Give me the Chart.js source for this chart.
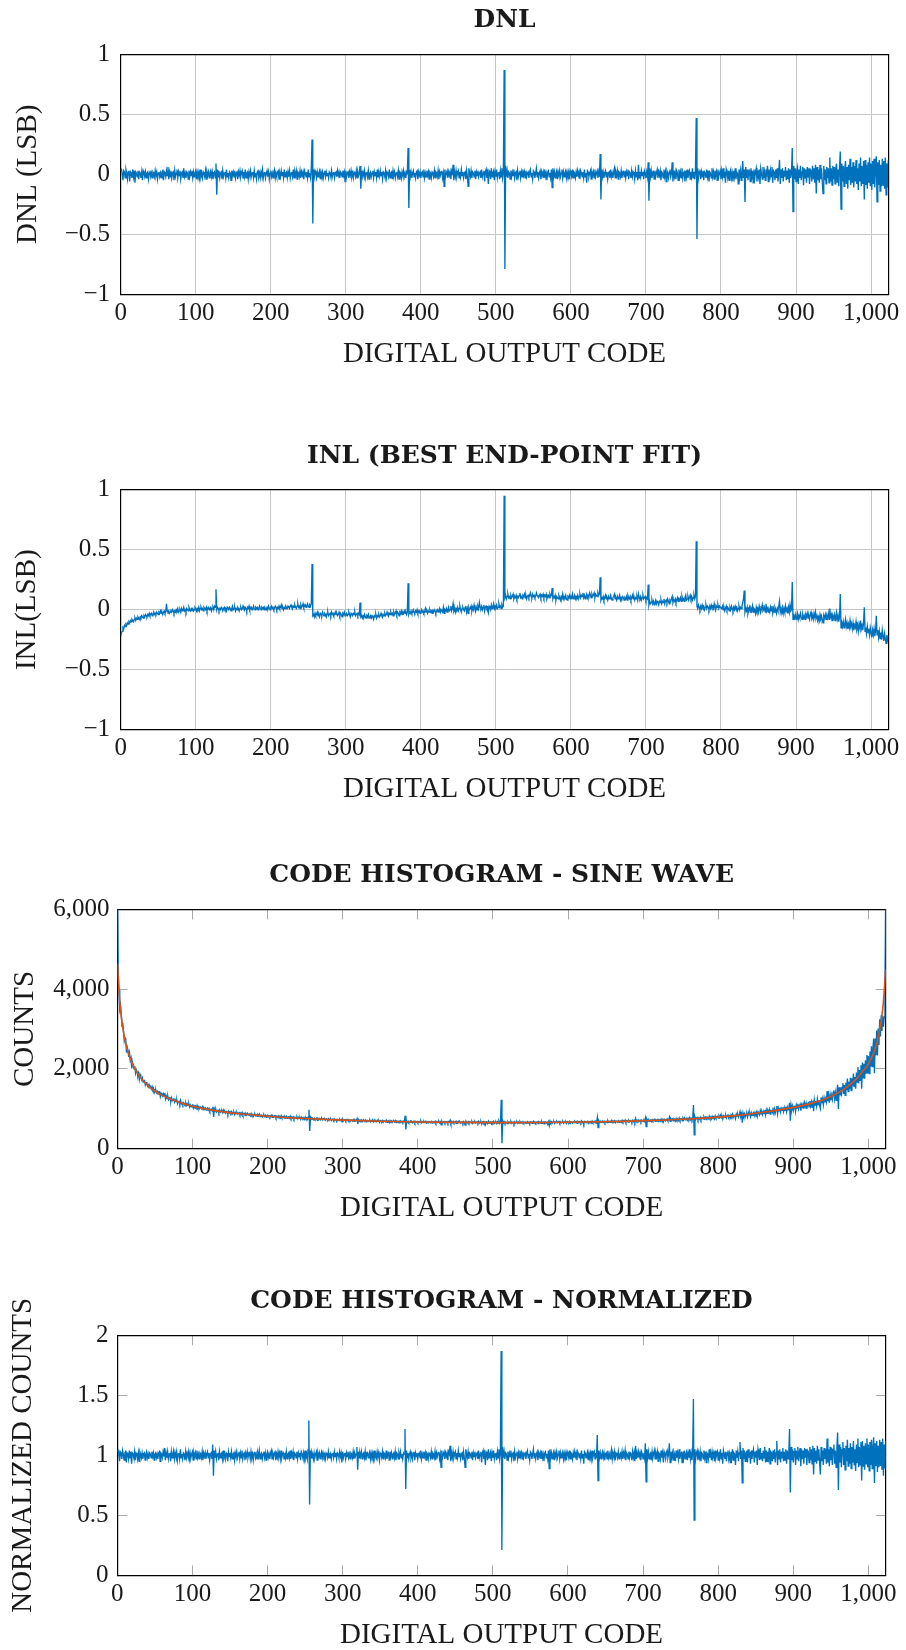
<!DOCTYPE html>
<html>
<head>
<meta charset="utf-8">
<title>ADC static linearity</title>
<script src="https://cdn.jsdelivr.net/npm/chart.js@4.4.1/dist/chart.umd.min.js"></script>
<style>
  html, body { margin: 0; padding: 0; background: #fff; width: 906px; height: 1650px; overflow: hidden; }
  .panel { position: absolute; left: 0; width: 906px; height: 375px; }
  .panel canvas { display: block; }
</style>
</head>
<body>
<div class="panel" id="p1"><canvas id="dnlChart" width="906" height="375"></canvas></div>
<div class="panel" id="p2"><canvas id="inlChart" width="906" height="375"></canvas></div>
<div class="panel" id="p3"><canvas id="histChart" width="906" height="375"></canvas></div>
<div class="panel" id="p4"><canvas id="normChart" width="906" height="375"></canvas></div>
<script>
// Tick values shared by the panels
const codeTicks = [0, 100, 200, 300, 400, 500, 600, 700, 800, 900, 1000];
const lsbTicks = [-1, -0.5, 0, 0.5, 1];
const countTicks = [0, 2000, 4000, 6000];
const normTicks = [0, 0.5, 1, 1.5, 2];

// DNL per output code (LSB), codes 0..1023, 32 codes per row
const dnl = [
.03,.04,.01,-.05,.03,.02,-.03,.04,.01,-.04,.02,.03,-.06,.02,.01,-.03,.04,-.02,.03,-.07,.02,.01,-.02,.03,-.04,.02,.01,-.03,.02,-.05,.03,.01,
-.02,.02,-.03,.01,.02,-.04,.01,.03,-.02,.01,-.03,.02,.01,-.02,.03,-.01,.02,-.04,.01,.02,-.02,.01,-.03,.02,.03,-.05,.02,.01,-.02,.03,-.01,.06,
-.04,.02,-.02,.03,-.03,.01,.02,-.05,.03,-.02,.01,.04,-.03,.02,-.01,.03,-.04,.01,.02,-.03,.05,-.02,.01,-.03,.02,.01,-.04,.03,-.02,.02,-.01,.03,
-.03,.02,-.02,.01,.03,-.04,.02,-.01,.02,-.03,.04,-.02,.01,-.03,.02,.01,-.02,.03,-.04,.02,-.01,.02,-.03,.01,.03,-.02,.02,-.04,.01,.02,-.03,.09,
-.17,.04,-.02,.03,-.03,.01,.02,-.04,.03,-.02,.01,.02,-.03,.04,-.02,.01,-.03,.02,.01,-.05,.03,-.01,.02,-.02,.03,-.03,.01,.02,-.04,.02,-.01,.03,
-.02,.01,.03,-.03,.02,-.02,.04,-.03,.01,.02,-.04,.02,-.01,.03,-.02,.01,.02,-.03,.03,-.02,.01,-.04,.02,.03,-.02,.01,-.03,.02,-.01,.04,-.03,.01,
.02,-.03,.01,.03,-.02,.02,-.04,.01,.03,-.02,.01,-.03,.02,.04,-.03,.01,-.02,.02,.03,-.04,.01,-.02,.03,-.01,.02,-.03,.04,-.02,.01,.02,-.03,.02,
-.02,.03,-.03,.01,.02,-.02,.04,-.03,.02,-.01,.03,-.04,.02,.01,-.02,.03,-.03,.02,-.01,.02,-.04,.03,.01,-.02,.02,-.03,.04,-.02,.01,-.03,.05,.29,
-.41,.04,-.02,.03,.01,-.03,.02,-.02,.01,.03,-.04,.02,-.01,.02,-.03,.01,.03,-.02,.02,-.01,.01,-.03,.02,.01,-.02,.03,-.02,.01,.02,-.03,.01,.02,
-.02,.03,-.01,.02,-.03,.02,.01,-.02,.03,-.01,.02,-.06,.03,-.02,.01,.02,-.03,.02,-.01,.03,-.02,.01,-.03,.02,.01,-.02,.03,-.03,.02,-.01,.01,.07,
-.12,.03,-.02,.02,-.01,.03,-.03,.01,.02,-.02,.03,-.04,.01,.02,-.02,.01,.03,-.03,.02,-.01,.02,-.03,.04,-.02,.01,-.02,.03,-.01,.02,-.04,.02,.01,
-.02,.03,-.03,.02,.01,-.02,.04,-.03,.01,.02,-.04,.03,-.01,.02,-.03,.01,.02,-.02,.03,-.04,.02,.01,-.03,.02,-.01,.03,-.02,.01,-.03,.02,.01,.22,
-.28,.04,-.02,.02,-.03,.01,.03,-.02,.01,-.03,.02,.03,-.04,.02,-.01,.02,-.03,.01,.02,-.02,.04,-.03,.01,-.02,.03,-.01,.02,-.04,.02,.01,-.03,.02,
.01,-.02,.03,-.03,.02,.01,-.02,.03,-.04,.02,-.01,.02,.03,-.03,.01,-.10,.04,-.02,.01,.03,-.03,.02,-.01,.02,-.04,.03,.01,.08,-.05,.02,-.02,.03,
-.02,.01,.03,-.03,.02,-.02,.04,-.01,.02,-.03,.01,.02,-.04,.03,-.02,-.10,.05,.01,-.02,.03,-.03,.02,.01,-.02,.03,-.04,.02,-.01,.03,-.02,.01,.02,
-.03,.04,-.02,.01,.03,-.06,.02,.04,-.03,.01,-.08,.03,.02,-.04,.05,-.02,.01,.03,-.05,.02,-.02,.04,-.03,.01,.02,-.04,.03,-.02,.05,-.03,.02,.87,
-.79,.07,-.02,.03,-.03,.02,.01,-.04,.03,-.02,.02,-.01,.04,-.03,.01,.02,-.05,.03,-.02,.01,.03,-.03,.02,-.02,.04,-.01,.02,-.03,.03,-.02,.01,.02,
-.03,.02,.04,-.02,.01,-.04,.03,.02,-.03,.01,.05,-.02,.02,-.03,.01,.03,-.04,.02,-.01,.02,-.03,.04,-.02,.01,-.05,.02,.03,-.02,.01,-.03,.04,-.11,
.05,-.02,.02,-.03,.01,.03,-.04,.02,-.01,.03,-.02,.01,.04,-.03,.02,-.02,.01,.03,-.03,.02,-.01,.02,-.04,.03,.01,-.02,.04,-.03,.02,.01,-.03,.02,
-.02,.03,-.01,.02,-.04,.03,.01,-.02,.02,-.03,.04,-.02,.01,-.07,.03,.02,-.02,.01,.03,-.04,.02,-.01,.02,-.03,.04,-.02,.01,.03,-.03,.02,-.02,.17,
-.21,.04,-.02,.02,-.03,.01,.03,-.02,.02,-.04,.01,.02,-.03,.04,-.02,.01,-.03,.02,.05,-.03,.02,-.01,.03,-.04,.02,.01,-.02,.03,-.03,.01,.02,-.02,
.03,-.03,.02,-.01,.04,-.04,.02,.01,-.03,.03,-.02,.02,.01,-.04,.03,-.02,.02,-.05,.08,-.03,.02,-.02,.03,-.01,.02,-.04,.03,.01,-.03,.02,-.02,.10,
-.22,.05,-.02,.03,-.03,.01,.02,-.04,.03,-.02,.01,.04,-.03,.02,-.01,.03,-.05,.02,.01,-.03,.04,-.02,.02,-.06,.03,.01,-.03,.02,.04,-.02,.01,.10,
-.06,.03,-.02,.02,-.04,.03,.01,-.05,.04,-.02,.02,-.03,.05,-.03,.01,.02,-.06,.03,-.02,.04,-.03,.01,.03,-.04,.02,-.02,.05,-.03,.02,-.04,.03,.47,
-.54,.05,-.03,.02,.04,-.04,.02,-.02,.03,-.05,.02,.01,-.03,.04,-.02,.03,-.06,.02,.01,-.03,.05,-.02,.02,-.04,.03,-.01,.02,-.05,.04,-.02,.01,.03,
-.04,.03,-.02,.05,-.03,.02,-.07,.04,.01,-.03,.03,-.05,.02,.04,-.03,.01,-.06,.03,-.02,.05,-.04,.02,.01,-.08,.04,-.02,.03,-.05,.02,.11,-.03,.04,
-.23,.06,-.03,.04,-.05,.02,.03,-.06,.05,-.02,.03,-.07,.04,-.03,.02,.05,-.06,.03,-.02,.04,-.08,.05,.01,-.04,.06,-.03,.02,-.05,.04,-.02,.07,-.06,
.04,-.05,.03,-.02,.06,-.07,.03,.02,-.05,.04,-.03,.05,-.06,.02,.12,-.08,.04,-.03,.05,-.06,.03,-.02,.06,-.05,.03,-.04,.05,-.07,.04,-.03,.02,.22,
-.31,.07,-.04,.05,-.06,.03,.06,-.08,.04,-.03,.07,-.05,.02,.06,-.09,.05,-.03,.04,-.07,.06,-.02,.05,-.08,.04,.03,-.06,.07,-.04,.05,-.07,.08,-.16,
.06,-.05,.04,-.07,.08,-.04,.05,-.06,-.16,.07,-.05,.04,-.08,.06,-.03,.05,-.07,.14,-.06,.05,-.09,.07,-.04,.06,-.08,.05,.09,-.07,.04,-.10,.06,.19,
-.29,.09,-.06,.07,-.10,.05,.11,-.08,.06,-.12,.08,-.05,.13,-.09,.06,-.07,.10,-.11,.07,-.06,.12,-.08,.05,-.13,.09,-.06,.14,-.10,.07,-.08,.11,-.21,
.12,-.09,.08,-.12,.10,-.07,.14,-.10,.09,-.13,.11,-.08,.13,-.11,.07,.15,-.23,.10,-.09,.12,-.14,.08,-.10,.13,-.09,.11,-.12,.14,-.17,.09,-.11,.12
];

// INL per output code (LSB), best end-point fit
const inl = [
-.22,-.19,-.18,-.15,-.16,-.13,-.14,-.12,-.13,-.11,-.12,-.10,-.11,-.09,-.10,-.08,-.09,-.10,-.08,-.07,-.09,-.07,-.08,-.06,-.07,-.08,-.06,-.07,-.05,-.06,-.07,-.05,
-.06,-.04,-.05,-.06,-.04,-.05,-.03,-.05,-.04,-.03,-.05,-.04,-.02,-.04,-.03,-.04,-.02,-.03,-.04,-.02,-.03,-.01,-.03,-.02,-.04,-.02,-.01,-.03,-.02,.05,-.01,-.02,
-.01,-.03,-.02,-.01,-.02,0,-.01,-.03,-.01,-.02,0,-.01,.01,-.02,-.01,0,-.02,.01,-.01,0,.02,-.01,0,-.02,.01,0,-.01,.02,0,-.01,.01,0,
.01,-.01,0,.02,.01,-.01,.01,0,.02,-.01,.01,.02,0,.01,-.01,.02,.01,0,.02,-.01,.01,.02,0,.01,.02,-.01,.01,.02,0,.03,.02,.17,
0,.02,.01,-.01,.01,0,.02,.01,-.01,.01,.02,0,.01,-.01,.02,.01,0,.02,.01,-.01,.01,.03,0,.01,.02,-.01,.01,0,.02,.01,-.01,.01,
.02,0,.01,.03,.01,0,.02,.01,-.01,.02,.01,.03,0,.01,.02,0,.01,.03,.01,0,.02,.01,.02,0,.01,.03,.01,0,.02,.01,.02,0,
.02,.01,0,.02,.01,.03,.01,0,.02,.03,.01,.02,0,.01,.03,.02,0,.02,.01,.03,.01,.02,.04,.01,.02,0,.02,.01,.03,.02,.01,.03,
.02,.01,.03,.04,.02,.01,.03,.02,.04,.02,.01,.03,.05,.02,.03,.01,.04,.02,.03,.05,.02,.03,.04,.02,.03,.05,.03,.02,.04,.03,.05,.38,
-.05,-.04,-.06,-.03,-.05,-.04,-.02,-.05,-.04,-.06,-.03,-.04,-.05,-.02,-.04,-.05,-.03,-.04,-.06,-.03,-.02,-.05,-.04,-.03,-.05,-.02,-.04,-.03,-.05,-.04,-.02,-.04,
-.03,-.05,-.04,-.02,-.05,-.03,-.04,-.06,-.03,-.04,-.02,-.05,-.04,-.03,-.05,-.04,-.02,-.04,-.06,-.03,-.04,-.05,-.03,-.04,-.02,-.05,-.04,-.03,-.05,-.03,-.04,.06,
-.06,-.05,-.07,-.05,-.06,-.04,-.06,-.07,-.05,-.06,-.04,-.07,-.06,-.05,-.07,-.05,-.06,-.08,-.05,-.06,-.04,-.07,-.05,-.06,-.04,-.06,-.05,-.03,-.05,-.06,-.04,-.05,
-.03,-.05,-.04,-.02,-.04,-.05,-.03,-.04,-.02,-.04,-.03,-.05,-.02,-.04,-.03,-.01,-.04,-.02,-.03,-.05,-.02,-.03,-.01,-.04,-.02,-.03,-.01,-.03,-.02,-.04,-.02,.22,
-.04,-.02,-.03,-.01,-.03,-.02,0,-.02,-.03,-.01,-.02,0,-.03,-.02,-.01,-.03,-.02,0,-.02,-.01,-.03,-.02,.01,-.02,-.01,-.03,-.01,-.02,0,-.02,-.01,-.03,
-.01,-.02,0,-.01,-.03,-.01,0,-.02,-.01,.01,-.02,0,-.01,-.02,.02,-.03,0,-.01,.01,-.02,0,.02,-.01,0,.03,-.01,.01,.05,-.01,.01,-.02,.01,
0,.02,-.01,.01,.03,0,-.02,.01,.02,0,-.01,.02,.03,-.02,.01,-.03,.02,0,.01,.03,-.01,.02,0,.04,.01,-.01,.02,0,.03,.01,.06,.02,
.01,.03,0,.02,.04,-.01,.02,.03,.01,.02,-.02,.03,.02,0,.04,.01,.02,.05,.01,.03,.02,.04,.01,.02,.05,.02,.03,.01,.04,.02,.03,.95,
.10,.12,.09,.11,.13,.10,.11,.09,.12,.10,.11,.13,.09,.11,.10,.12,.09,.11,.10,.12,.14,.10,.11,.09,.12,.11,.13,.10,.12,.09,.11,.12,
.10,.12,.14,.11,.10,.13,.11,.12,.10,.11,.14,.12,.11,.10,.12,.13,.10,.12,.11,.13,.10,.12,.11,.13,.09,.11,.12,.10,.13,.11,.12,.18,
.09,.11,.10,.12,.08,.11,.10,.09,.12,.10,.08,.11,.10,.13,.09,.11,.10,.12,.09,.08,.11,.10,.12,.09,.11,.10,.13,.09,.10,.12,.09,.11,
.10,.12,.09,.11,.13,.10,.12,.11,.14,.10,.12,.09,.11,.13,.10,.12,.11,.14,.12,.10,.13,.11,.12,.14,.10,.13,.12,.11,.14,.12,.13,.27,
.08,.10,.09,.11,.08,.10,.12,.09,.10,.08,.11,.09,.10,.12,.09,.08,.10,.11,.13,.09,.10,.08,.11,.09,.10,.12,.08,.10,.09,.11,.10,.08,
.10,.09,.11,.08,.12,.10,.09,.11,.08,.10,.12,.09,.11,.08,.10,.09,.11,.08,.13,.10,.09,.11,.08,.10,.12,.09,.10,.11,.08,.10,.09,.21,
.04,.07,.05,.06,.08,.05,.07,.04,.06,.08,.05,.07,.06,.04,.07,.06,.08,.05,.07,.06,.09,.05,.07,.08,.06,.09,.07,.05,.08,.07,.09,.11,
.06,.08,.07,.09,.06,.08,.10,.07,.09,.08,.10,.07,.11,.08,.09,.07,.10,.12,.08,.09,.11,.08,.10,.12,.09,.11,.08,.10,.12,.09,.11,.57,
.03,.01,.04,.02,0,.03,.01,.04,.02,.03,0,.02,.04,.01,.03,.02,0,.03,.01,.04,.02,.03,.01,.05,.02,0,.03,.02,.04,.01,.03,.02,
.02,.01,.03,0,.02,-.01,.01,.03,0,.02,.01,-.01,.02,0,.03,.01,-.01,.02,0,.03,.01,.02,-.01,.01,.03,0,.02,.01,.03,.06,.09,.16,
-.02,.01,-.01,.02,-.03,0,.02,-.02,.01,-.01,.03,-.02,.01,0,-.03,.02,-.01,.01,-.02,.03,0,-.02,.01,.04,-.01,0,.02,-.02,.05,-.01,.01,-.02,
0,-.02,.02,-.01,.03,-.03,.01,-.02,.02,0,-.03,.01,-.01,.03,.07,-.02,.01,-.01,.02,-.03,.01,-.02,.03,-.01,.01,-.03,.02,-.02,.04,-.01,0,.23,
-.08,-.05,-.07,-.04,-.08,-.06,-.03,-.08,-.05,-.07,-.03,-.06,-.08,-.04,-.07,-.05,-.08,-.04,-.06,-.03,-.07,-.05,-.08,-.04,-.02,-.07,-.05,-.08,-.03,-.06,-.02,-.07,
-.05,-.08,-.06,-.09,-.04,-.07,-.05,-.08,-.11,-.05,-.07,-.04,-.08,-.05,-.07,-.03,-.08,.01,-.06,-.04,-.09,-.05,-.07,-.04,-.09,-.05,-.02,-.08,-.05,-.10,-.06,.13,
-.15,-.11,-.14,-.10,-.15,-.12,-.08,-.14,-.11,-.16,-.12,-.15,-.09,-.14,-.12,-.16,-.11,-.17,-.13,-.15,-.10,-.16,-.13,-.18,-.12,-.15,-.09,-.16,-.13,-.17,-.11,.02,
-.18,-.15,-.20,-.14,-.19,-.16,-.21,-.15,-.19,-.23,-.17,-.21,-.16,-.22,-.18,-.05,-.21,-.17,-.23,-.18,-.24,-.19,-.25,-.17,-.22,-.26,-.20,-.24,-.28,-.21,-.25,-.22
];

// Measured sine-wave histogram: hits per output code
const histCounts = [
6400,4410,3980,3505,3595,3386,3065,3151,2949,2698,2774,2719,2406,2540,2454,2299,2402,2215,2276,2013,2162,2101,2004,2070,1896,1979,1929,1824,1892,1739,1859,1798,
1725,1775,1668,1717,1714,1594,1656,1669,1568,1601,1523,1586,1555,1495,1555,1480,1512,1410,1471,1473,1403,1434,1367,1426,1429,1308,1394,1371,1320,1378,1316,1399,
1247,1317,1257,1314,1230,1273,1277,1183,1274,1204,1233,1263,1170,1222,1178,1218,1128,1182,1187,1124,1211,1125,1153,1103,1154,1137,1075,1148,1087,1126,1087,1125,
1048,1098,1052,1080,1097,1019,1079,1043,1071,1016,1085,1018,1046,1001,1049,1035,1001,1048,973,1030,996,1023,969,1005,1022,968,1004,942,987,992,941,1053,
797,996,936,982,922,957,964,905,968,919,944,952,903,965,907,932,893,936,925,867,938,900,924,886,928,872,905,912,855,907,878,911,
864,889,905,851,893,857,907,844,878,884,830,881,853,886,842,866,872,828,878,833,857,813,862,869,825,848,814,854,827,867,807,838,
845,802,833,849,807,838,787,827,843,800,823,790,829,844,787,817,792,823,829,772,811,786,824,791,814,773,828,778,801,808,767,805,
772,811,762,793,800,767,813,758,796,771,801,746,792,783,759,796,749,786,762,784,737,790,774,750,779,740,792,746,768,737,797,978,
444,781,735,773,756,726,762,731,753,767,714,758,735,756,719,747,761,723,752,730,743,713,749,740,718,754,716,737,744,707,735,742,
709,744,715,735,699,734,726,705,740,711,731,674,737,701,722,728,693,727,706,733,697,718,689,724,716,694,729,686,721,699,713,754,
620,725,689,717,695,723,680,708,714,686,720,671,705,712,683,704,717,675,709,688,708,673,721,679,699,678,712,684,704,662,703,696,
673,708,666,701,694,673,712,664,692,699,658,706,678,699,662,689,696,668,702,655,696,689,659,693,672,699,665,686,656,690,683,825,
485,700,660,686,653,680,693,660,680,653,686,693,646,686,666,686,649,676,682,656,696,649,676,656,689,662,682,642,682,676,649,682,
672,652,685,645,678,672,652,685,638,678,658,678,685,645,672,599,688,649,669,682,642,675,655,675,636,682,669,715,629,675,649,682,
646,666,679,639,672,646,685,652,672,639,666,672,633,679,646,593,692,666,646,679,639,672,666,646,679,633,672,652,679,646,666,672,
636,682,643,663,676,617,669,682,636,663,604,676,669,630,689,643,663,676,623,669,643,682,636,663,669,630,676,643,689,636,669,1227,
138,701,642,675,635,668,662,629,675,642,668,648,681,635,662,668,622,675,642,662,675,635,668,642,681,648,668,635,675,642,662,668,
636,669,682,643,663,630,676,669,636,663,689,643,669,636,663,676,630,669,649,669,636,682,643,663,623,669,676,643,663,636,682,584,
693,647,673,640,667,680,634,673,653,680,647,667,686,640,673,647,667,680,640,673,653,673,634,680,667,647,686,640,673,667,640,673,
653,686,659,679,639,686,673,653,679,646,693,653,673,619,686,679,653,673,686,639,679,659,679,646,693,653,673,686,646,679,653,781,
532,701,661,687,654,681,694,661,687,647,681,687,654,701,661,681,660,694,714,660,694,673,700,653,694,687,666,700,660,687,694,666,
711,669,704,683,718,662,704,697,669,711,676,704,697,662,711,676,712,663,754,677,712,684,719,691,712,670,719,705,677,712,684,768,
552,743,694,729,687,715,722,680,729,694,715,736,687,722,701,729,681,731,724,695,746,703,731,674,739,724,695,731,746,703,724,789,
686,752,715,745,701,752,737,694,759,715,745,708,767,708,737,745,700,767,730,775,723,752,767,715,760,730,782,723,760,715,767,1095,
347,793,732,770,785,725,770,740,788,727,780,773,742,796,750,788,730,793,785,754,816,761,793,746,812,780,804,749,820,772,796,812,
768,824,784,840,776,816,744,832,820,788,836,771,828,844,788,820,773,847,806,863,789,838,830,756,868,818,860,793,852,927,810,868,
651,896,820,879,803,862,870,794,908,848,891,804,900,839,882,908,830,909,865,918,812,927,892,848,956,875,920,857,938,884,965,848,
967,884,958,911,986,865,958,949,907,993,926,1003,898,974,1070,879,1019,951,1029,921,1009,960,1039,931,1032,962,1052,932,1042,972,1022,1150,
700,1091,979,1071,959,1051,1081,938,1092,1019,1124,998,1071,1113,956,1103,1050,1125,1006,1147,1060,1136,995,1125,1148,1048,1193,1070,1171,1037,1204,937,
1219,1093,1196,1070,1242,1104,1208,1081,1008,1284,1140,1248,1104,1272,1164,1260,1176,1442,1189,1328,1151,1354,1214,1341,1237,1412,1466,1251,1399,1211,1426,1600,
994,1540,1341,1541,1308,1539,1642,1373,1595,1336,1653,1467,1759,1429,1681,1490,1780,1454,1766,1566,1884,1562,1800,1505,1910,1668,2047,1636,1969,1713,2091,1506,
2159,1775,2130,1755,2218,1895,2348,1885,2320,1881,2438,2052,2567,2060,2522,2760,1892,2764,2339,2960,2337,3013,2597,3242,2812,3344,2950,3320,3060,3300,3950,6400
];

// Ideal sine-wave histogram (expected hits) at selected codes
const fitCodes = [0,1,2,3,4,6,8,10,13,16,20,25,30,40,50,60,80,100,130,160,200,250,300,350,400,450,512,573,623,673,723,773,823,863,893,923,943,963,973,983,993,998,1003,1007,1010,1013,1015,1017,1019,1020,1021,1022,1023];
const fitCounts = [4650,4240,3940,3690,3490,3160,2920,2720,2490,2310,2120,1940,1800,1590,1440,1330,1175,1065,955,882,815,757,716,688,670,659,654,658,668,686,714,757,828,920,1010,1130,1250,1440,1570,1730,1950,2060,2230,2400,2570,2790,2980,3200,3500,3700,3950,4220,4500];

// Histogram normalised to the ideal sine-wave distribution
const normCounts = [
1.03,1.04,1.01,.95,1.03,1.02,.97,1.04,1.01,.96,1.02,1.03,.94,1.02,1.01,.97,1.04,.98,1.03,.93,1.02,1.01,.98,1.03,.96,1.02,1.01,.97,1.02,.95,1.03,1.01,
.98,1.02,.97,1.01,1.02,.96,1.01,1.03,.98,1.01,.97,1.02,1.01,.98,1.03,.99,1.02,.96,1.01,1.02,.98,1.01,.97,1.02,1.03,.95,1.02,1.01,.98,1.03,.99,1.06,
.96,1.02,.98,1.03,.97,1.01,1.02,.95,1.03,.98,1.01,1.04,.97,1.02,.99,1.03,.96,1.01,1.02,.97,1.05,.98,1.01,.97,1.02,1.01,.96,1.03,.98,1.02,.99,1.03,
.97,1.02,.98,1.01,1.03,.96,1.02,.99,1.02,.97,1.04,.98,1.01,.97,1.02,1.01,.98,1.03,.96,1.02,.99,1.02,.97,1.01,1.03,.98,1.02,.96,1.01,1.02,.97,1.09,
.83,1.04,.98,1.03,.97,1.01,1.02,.96,1.03,.98,1.01,1.02,.97,1.04,.98,1.01,.97,1.02,1.01,.95,1.03,.99,1.02,.98,1.03,.97,1.01,1.02,.96,1.02,.99,1.03,
.98,1.01,1.03,.97,1.02,.98,1.04,.97,1.01,1.02,.96,1.02,.99,1.03,.98,1.01,1.02,.97,1.03,.98,1.01,.96,1.02,1.03,.98,1.01,.97,1.02,.99,1.04,.97,1.01,
1.02,.97,1.01,1.03,.98,1.02,.96,1.01,1.03,.98,1.01,.97,1.02,1.04,.97,1.01,.98,1.02,1.03,.96,1.01,.98,1.03,.99,1.02,.97,1.04,.98,1.01,1.02,.97,1.02,
.98,1.03,.97,1.01,1.02,.98,1.04,.97,1.02,.99,1.03,.96,1.02,1.01,.98,1.03,.97,1.02,.99,1.02,.96,1.03,1.01,.98,1.02,.97,1.04,.98,1.01,.97,1.05,1.29,
.59,1.04,.98,1.03,1.01,.97,1.02,.98,1.01,1.03,.96,1.02,.99,1.02,.97,1.01,1.03,.98,1.02,.99,1.01,.97,1.02,1.01,.98,1.03,.98,1.01,1.02,.97,1.01,1.02,
.98,1.03,.99,1.02,.97,1.02,1.01,.98,1.03,.99,1.02,.94,1.03,.98,1.01,1.02,.97,1.02,.99,1.03,.98,1.01,.97,1.02,1.01,.98,1.03,.97,1.02,.99,1.01,1.07,
.88,1.03,.98,1.02,.99,1.03,.97,1.01,1.02,.98,1.03,.96,1.01,1.02,.98,1.01,1.03,.97,1.02,.99,1.02,.97,1.04,.98,1.01,.98,1.03,.99,1.02,.96,1.02,1.01,
.98,1.03,.97,1.02,1.01,.98,1.04,.97,1.01,1.02,.96,1.03,.99,1.02,.97,1.01,1.02,.98,1.03,.96,1.02,1.01,.97,1.02,.99,1.03,.98,1.01,.97,1.02,1.01,1.22,
.72,1.04,.98,1.02,.97,1.01,1.03,.98,1.01,.97,1.02,1.03,.96,1.02,.99,1.02,.97,1.01,1.02,.98,1.04,.97,1.01,.98,1.03,.99,1.02,.96,1.02,1.01,.97,1.02,
1.01,.98,1.03,.97,1.02,1.01,.98,1.03,.96,1.02,.99,1.02,1.03,.97,1.01,.90,1.04,.98,1.01,1.03,.97,1.02,.99,1.02,.96,1.03,1.01,1.08,.95,1.02,.98,1.03,
.98,1.01,1.03,.97,1.02,.98,1.04,.99,1.02,.97,1.01,1.02,.96,1.03,.98,.90,1.05,1.01,.98,1.03,.97,1.02,1.01,.98,1.03,.96,1.02,.99,1.03,.98,1.01,1.02,
.97,1.04,.98,1.01,1.03,.94,1.02,1.04,.97,1.01,.92,1.03,1.02,.96,1.05,.98,1.01,1.03,.95,1.02,.98,1.04,.97,1.01,1.02,.96,1.03,.98,1.05,.97,1.02,1.87,
.21,1.07,.98,1.03,.97,1.02,1.01,.96,1.03,.98,1.02,.99,1.04,.97,1.01,1.02,.95,1.03,.98,1.01,1.03,.97,1.02,.98,1.04,.99,1.02,.97,1.03,.98,1.01,1.02,
.97,1.02,1.04,.98,1.01,.96,1.03,1.02,.97,1.01,1.05,.98,1.02,.97,1.01,1.03,.96,1.02,.99,1.02,.97,1.04,.98,1.01,.95,1.02,1.03,.98,1.01,.97,1.04,.89,
1.05,.98,1.02,.97,1.01,1.03,.96,1.02,.99,1.03,.98,1.01,1.04,.97,1.02,.98,1.01,1.03,.97,1.02,.99,1.02,.96,1.03,1.01,.98,1.04,.97,1.02,1.01,.97,1.02,
.98,1.03,.99,1.02,.96,1.03,1.01,.98,1.02,.97,1.04,.98,1.01,.93,1.03,1.02,.98,1.01,1.03,.96,1.02,.99,1.02,.97,1.04,.98,1.01,1.03,.97,1.02,.98,1.17,
.79,1.04,.98,1.02,.97,1.01,1.03,.98,1.02,.96,1.01,1.02,.97,1.04,.98,1.01,.97,1.02,1.05,.97,1.02,.99,1.03,.96,1.02,1.01,.98,1.03,.97,1.01,1.02,.98,
1.03,.97,1.02,.99,1.04,.96,1.02,1.01,.97,1.03,.98,1.02,1.01,.96,1.03,.98,1.02,.95,1.08,.97,1.02,.98,1.03,.99,1.02,.96,1.03,1.01,.97,1.02,.98,1.10,
.78,1.05,.98,1.03,.97,1.01,1.02,.96,1.03,.98,1.01,1.04,.97,1.02,.99,1.03,.95,1.02,1.01,.97,1.04,.98,1.02,.94,1.03,1.01,.97,1.02,1.04,.98,1.01,1.10,
.94,1.03,.98,1.02,.96,1.03,1.01,.95,1.04,.98,1.02,.97,1.05,.97,1.01,1.02,.94,1.03,.98,1.04,.97,1.01,1.03,.96,1.02,.98,1.05,.97,1.02,.96,1.03,1.47,
.46,1.05,.97,1.02,1.04,.96,1.02,.98,1.03,.95,1.02,1.01,.97,1.04,.98,1.03,.94,1.02,1.01,.97,1.05,.98,1.02,.96,1.03,.99,1.02,.95,1.04,.98,1.01,1.03,
.96,1.03,.98,1.05,.97,1.02,.93,1.04,1.01,.97,1.03,.95,1.02,1.04,.97,1.01,.94,1.03,.98,1.05,.96,1.02,1.01,.92,1.04,.98,1.03,.95,1.02,1.11,.97,1.04,
.77,1.06,.97,1.04,.95,1.02,1.03,.94,1.05,.98,1.03,.93,1.04,.97,1.02,1.05,.94,1.03,.98,1.04,.92,1.05,1.01,.96,1.06,.97,1.02,.95,1.04,.98,1.07,.94,
1.04,.95,1.03,.98,1.06,.93,1.03,1.02,.95,1.04,.97,1.05,.94,1.02,1.12,.92,1.04,.97,1.05,.94,1.03,.98,1.06,.95,1.03,.96,1.05,.93,1.04,.97,1.02,1.22,
.69,1.07,.96,1.05,.94,1.03,1.06,.92,1.04,.97,1.07,.95,1.02,1.06,.91,1.05,.97,1.04,.93,1.06,.98,1.05,.92,1.04,1.03,.94,1.07,.96,1.05,.93,1.08,.84,
1.06,.95,1.04,.93,1.08,.96,1.05,.94,.84,1.07,.95,1.04,.92,1.06,.97,1.05,.93,1.14,.94,1.05,.91,1.07,.96,1.06,.92,1.05,1.09,.93,1.04,.90,1.06,1.19,
.71,1.09,.94,1.07,.90,1.05,1.11,.92,1.06,.88,1.08,.95,1.13,.91,1.06,.93,1.10,.89,1.07,.94,1.12,.92,1.05,.87,1.09,.94,1.14,.90,1.07,.92,1.11,.79,
1.12,.91,1.08,.88,1.10,.93,1.14,.90,1.09,.87,1.11,.92,1.13,.89,1.07,1.15,.77,1.10,.91,1.12,.86,1.08,.90,1.13,.91,1.11,.88,1.14,.83,1.09,.89,1.12
];

// ---------------------------------------------------------------------------
const BLUE = 'rgb(0,114,189)';
const ORANGE = 'rgb(217,83,25)';
const TEXT = '#1a1a1a';
const FRAME = '#000000';
const GRID = '#c6c6c6';
const TICK = '#a8a8a8';
const CANVAS_H = 375;
const TICK_FONT = { family: 'Liberation Serif', size: 25, lineHeight: 1.2 };
const AXIS_FONT = { family: 'Liberation Serif', size: 29, lineHeight: 1.2 };
const TITLE_FONT = { family: 'DejaVu Serif', size: 25, weight: 'bold', lineHeight: 1.2 };

Chart.defaults.font.family = 'Liberation Serif';
Chart.defaults.color = TEXT;

const fmt = v => Number(v).toLocaleString('en-US', { maximumFractionDigits: 2 }).replace('-', '\u2212');
const asPoints = values => values.map((y, code) => ({ x: code, y }));
const setTicks = list => scale => { scale.ticks = list.map(value => ({ value })); };

function buildPanel(spec) {
  const canvasTop = Math.floor(spec.plotTop) - 54;
  document.getElementById(spec.box).style.top = canvasTop + 'px';
  const top = spec.plotTop - canvasTop;          // plot top inside canvas
  const bottom = spec.plotBottom - canvasTop;    // plot bottom inside canvas
  const tl = spec.gridLines ? 0 : -10;           // inward tick marks when no grid
  const titleLine = TITLE_FONT.size * 1.2;
  const titlePadTop = top - 33.5 - titleLine / 2;
  const titlePadBottom = top - titlePadTop - titleLine;
  const axisLine = AXIS_FONT.size * 1.2;

  const gridOpts = spec.gridLines
    ? { display: true, drawOnChartArea: true, drawTicks: false, color: GRID, lineWidth: 1 }
    : { display: true, drawOnChartArea: false, drawTicks: true, tickLength: tl, color: TICK, lineWidth: 1 };
  const sideGrid = spec.gridLines
    ? { display: false }
    : { display: true, drawOnChartArea: false, drawTicks: true, tickLength: -10, color: TICK, lineWidth: 1 };
  const border = { display: true, color: FRAME, width: 1.2 };

  return new Chart(document.getElementById(spec.canvas), {
    type: 'line',
    data: { datasets: spec.datasets },
    options: {
      responsive: false,
      animation: false,
      devicePixelRatio: 1,
      events: [],
      parsing: false,
      layout: { padding: { top: 0, left: 0, bottom: 0, right: 906 - spec.right } },
      plugins: {
        legend: { display: false },
        tooltip: { enabled: false },
        title: {
          display: true, text: spec.title, fullSize: false, color: TEXT, font: TITLE_FONT,
          padding: { top: titlePadTop, bottom: titlePadBottom }
        }
      },
      scales: {
        x: {
          type: 'linear', position: 'bottom', min: 0, max: 1023,
          afterBuildTicks: setTicks(codeTicks),
          afterFit: s => { s.height = CANVAS_H - bottom; s.paddingLeft = 0; s.paddingRight = 0; },
          grid: gridOpts, border,
          ticks: { autoSkip: false, maxRotation: 0, minRotation: 0, font: TICK_FONT, color: TEXT,
                   padding: 18.7 - 15 - tl, callback: fmt },
          title: { display: true, text: 'DIGITAL OUTPUT CODE', font: AXIS_FONT, color: TEXT,
                   padding: { top: 0, bottom: CANVAS_H - (bottom + 60) - axisLine / 2 } }
        },
        x2: {
          type: 'linear', position: 'top', min: 0, max: 1023,
          afterBuildTicks: setTicks(codeTicks),
          afterFit: s => { s.height = 0; s.paddingLeft = 0; s.paddingRight = 0; },
          grid: sideGrid, border, ticks: { display: false }
        },
        y: {
          type: 'linear', position: 'left', min: spec.yMin, max: spec.yMax,
          afterBuildTicks: setTicks(spec.yTicks),
          afterFit: s => { s.width = spec.left; s.paddingTop = 0; s.paddingBottom = 0; },
          grid: gridOpts, border,
          ticks: { autoSkip: false, font: TICK_FONT, color: TEXT,
                   padding: spec.left - spec.yLabelRight - tl, callback: fmt },
          title: { display: true, text: spec.yLabel, font: AXIS_FONT, color: TEXT,
                   padding: { top: spec.yTitleX - axisLine / 2, bottom: 0 } }
        },
        y2: {
          type: 'linear', position: 'right', min: spec.yMin, max: spec.yMax,
          afterBuildTicks: setTicks(spec.yTicks),
          afterFit: s => { s.width = 0; s.paddingTop = 0; s.paddingBottom = 0; },
          grid: sideGrid, border, ticks: { display: false }
        }
      }
    }
  });
}

const lineStyle = { borderColor: BLUE, borderWidth: 1.35, pointRadius: 0, tension: 0, fill: false };

buildPanel({
  box: 'p1', canvas: 'dnlChart', title: 'DNL', yLabel: 'DNL (LSB)',
  plotTop: 54.3, plotBottom: 294.3, left: 120.7, right: 888.3,
  yMin: -1, yMax: 1, yTicks: lsbTicks, gridLines: true, yLabelRight: 110, yTitleX: 28.3,
  datasets: [{ ...lineStyle, data: asPoints(dnl) }]
});

buildPanel({
  box: 'p2', canvas: 'inlChart', title: 'INL (BEST END-POINT FIT)', yLabel: 'INL(LSB)',
  plotTop: 489.7, plotBottom: 729.7, left: 120.7, right: 888.3,
  yMin: -1, yMax: 1, yTicks: lsbTicks, gridLines: true, yLabelRight: 110, yTitleX: 27,
  datasets: [{ ...lineStyle, data: asPoints(inl) }]
});

buildPanel({
  box: 'p3', canvas: 'histChart', title: 'CODE HISTOGRAM - SINE WAVE', yLabel: 'COUNTS',
  plotTop: 909.3, plotBottom: 1148.7, left: 117.5, right: 885.7,
  yMin: 0, yMax: 6000, yTicks: countTicks, gridLines: false, yLabelRight: 109.4, yTitleX: 25,
  datasets: [
    { borderColor: ORANGE, borderWidth: 1.6, pointRadius: 0, cubicInterpolationMode: 'monotone', fill: false,
      data: fitCodes.map((x, i) => ({ x, y: fitCounts[i] })) },
    { ...lineStyle, data: asPoints(histCounts) }
  ]
});

buildPanel({
  box: 'p4', canvas: 'normChart', title: 'CODE HISTOGRAM - NORMALIZED', yLabel: 'NORMALIZED COUNTS',
  plotTop: 1335.3, plotBottom: 1575.3, left: 117.3, right: 885.7,
  yMin: 0, yMax: 2, yTicks: normTicks, gridLines: false, yLabelRight: 108.4, yTitleX: 23,
  datasets: [{ ...lineStyle, data: asPoints(normCounts) }]
});
</script>
</body>
</html>
